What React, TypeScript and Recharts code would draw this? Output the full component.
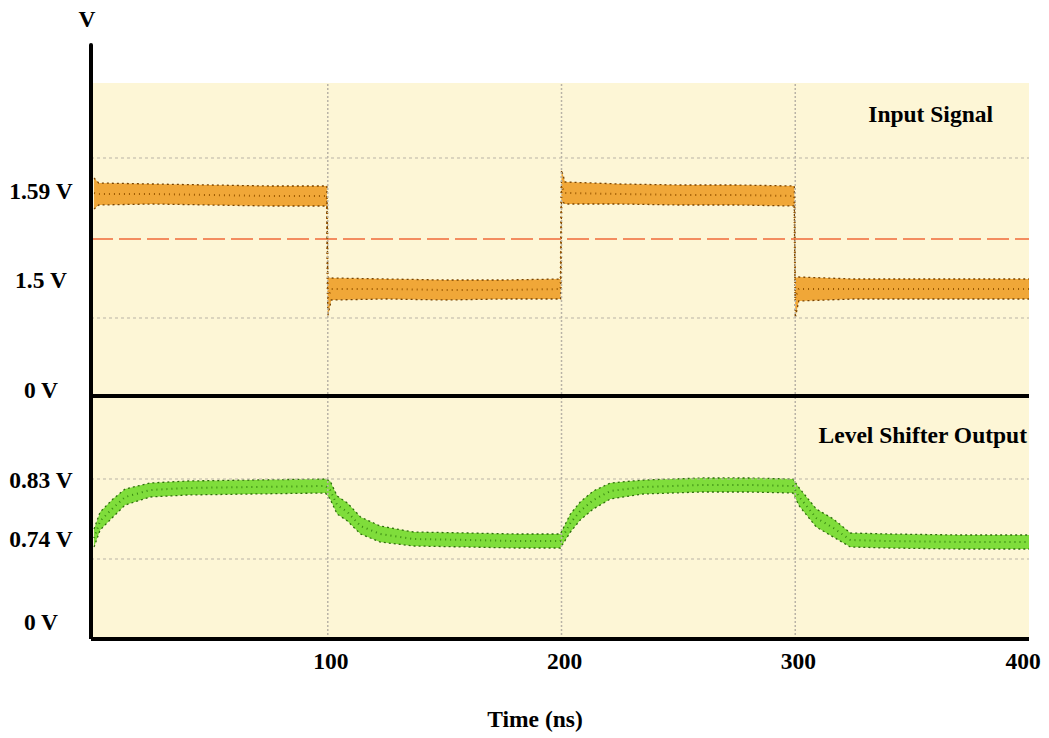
import React from 'react';
import { ComposedChart, Area, Line, XAxis, YAxis, ReferenceLine, ReferenceArea } from 'recharts';

// ---- shared x (time, ns) ----
const timeDomain: [number, number] = [-1.3, 400];
const timeTicks = [100, 200, 300, 400];
const timeGridLines = [100, 200, 300];
const minorTimeTicks = [20, 40, 60, 80, 120, 140, 160, 180, 220, 240, 260, 280, 320, 340, 360, 380];

// ---- Input Signal panel (schematic level units) ----
const topTime = [0, 2, 25, 50, 75, 99.6, 100, 101.5, 125, 150, 175, 199.6, 200, 201.5, 225, 250, 275, 299.6, 300, 301.5, 325, 350, 375, 400];
const topLow = [9.45, 9.65, 9.7, 9.65, 9.6, 9.6, 4.1, 4.9, 4.95, 4.9, 4.95, 4.95, 9.85, 9.7, 9.7, 9.65, 9.65, 9.6, 4.0, 4.85, 4.95, 4.95, 4.95, 4.95];
const topHigh = [11.0, 10.75, 10.7, 10.65, 10.6, 10.6, 6.05, 6.0, 5.95, 5.9, 5.9, 5.95, 11.4, 10.8, 10.7, 10.65, 10.65, 10.6, 6.0, 6.05, 5.95, 5.95, 5.95, 5.95];
const topMid = [10.25, 10.2, 10.2, 10.15, 10.1, 10.1, 5.0, 5.45, 5.45, 5.4, 5.4, 5.45, 10.6, 10.25, 10.2, 10.15, 10.15, 10.1, 5.0, 5.45, 5.45, 5.45, 5.45, 5.45];
const topTickValues = [0.37, 5.87, 10.33];
const topTickLabels = ['0 V', '1.5 V', '1.59 V'];
const topGridValues = [4, 12];
const topMinorTicks = [1, 2, 3, 4, 5, 6, 7, 8, 9, 10, 11, 12, 13, 14, 15];
const thresholdLevel = 7.95;
const topPanelMax = 15.75;
const topAxisMax = 17.65;

// ---- Level Shifter Output panel ----
const botTime = [0, 2.6, 8.1, 13.3, 24, 40, 67, 99, 101, 104, 108.4, 114, 122.4, 136.6, 160, 180, 199.5, 203.8, 208, 213.6, 220.9, 235, 260, 280, 299, 301.7, 309, 316.3, 323.6, 340, 370, 400];
const botMid = [5.05, 5.9, 6.55, 7.1, 7.45, 7.55, 7.6, 7.65, 7.45, 6.7, 6.35, 5.65, 5.25, 5.0, 4.95, 4.9, 4.9, 5.8, 6.4, 6.95, 7.4, 7.6, 7.7, 7.7, 7.65, 7.1, 6.05, 5.55, 4.95, 4.9, 4.85, 4.85];
const botLow = [4.6, 5.45, 6.1, 6.7, 7.1, 7.2, 7.25, 7.3, 7.0, 6.25, 5.9, 5.25, 4.85, 4.65, 4.6, 4.55, 4.55, 5.35, 5.95, 6.5, 7.0, 7.25, 7.35, 7.35, 7.3, 6.65, 5.6, 5.1, 4.6, 4.55, 4.5, 4.5];
const botHigh = [5.5, 6.35, 7.0, 7.5, 7.8, 7.9, 7.95, 8.0, 7.9, 7.15, 6.8, 6.1, 5.65, 5.35, 5.3, 5.25, 5.25, 6.25, 6.85, 7.4, 7.8, 7.95, 8.05, 8.05, 8.0, 7.55, 6.5, 6.0, 5.3, 5.25, 5.2, 5.2];
const botTickValues = [0.83, 5.0, 7.92];
const botTickLabels = ['0 V', '0.74 V', '0.83 V'];
const botGridValues = [4, 8];
const botMinorTicks = [1, 2, 3, 4, 5, 6, 7, 8, 9, 10, 11, 12];
const botAxisMax = 12.15;

const topData = topTime.map((t, i) => ({ t, band: [topLow[i], topHigh[i]], mid: topMid[i] }));
const botData = botTime.map((t, i) => ({ t, band: [botLow[i], botHigh[i]], mid: botMid[i] }));

const CREAM = '#FDF6D6';
const fontStyle: React.CSSProperties = {
  fontFamily: "'Liberation Serif', 'Times New Roman', serif",
  fontWeight: 700,
  fontSize: 23.5,
};

const makeYTick = (values: number[], labels: string[]) => (props: any) => {
  const { y, payload } = props;
  const i = values.indexOf(payload.value);
  return (
    <text x={41} y={y} dy="0.33em" textAnchor="middle" fill="#000" style={fontStyle}>
      {labels[i]}
    </text>
  );
};

const XTick = (props: any) => {
  const { x, y, payload } = props;
  const shift = payload.value === timeTicks[timeTicks.length - 1] ? -6 : 3;
  return (
    <text x={x + shift} y={y + 22} textAnchor="middle" fill="#000" style={fontStyle}>
      {payload.value}
    </text>
  );
};

const gridStroke = '#b9b3a6';

export default function App() {
  return (
    <div style={{ position: 'absolute', left: 0, top: 0, width: 1049, height: 738, background: '#fff' }}>
      {/* bottom panel */}
      <div style={{ position: 'absolute', left: 0, top: 394 }}>
        <ComposedChart width={1049} height={344} data={botData} margin={{ top: 2, right: 20, bottom: 69, left: 0 }}>
          <XAxis
            dataKey="t"
            type="number"
            domain={timeDomain}
            allowDataOverflow
            ticks={timeTicks}
            axisLine={{ stroke: '#000', strokeWidth: 4 }}
            tickLine={false}
            tick={<XTick />}
            height={30}
            label={{
              content: (p: any) => {
                const vb = p.viewBox;
                return (
                  <text x={vb.x + vb.width / 2 - 25} y={vb.y + 88} textAnchor="middle" fill="#000" style={fontStyle}>
                    Time (ns)
                  </text>
                );
              },
            }}
          />
          <XAxis
            xAxisId="minor"
            orientation="top"
            mirror
            type="number"
            domain={timeDomain}
            allowDataOverflow
            ticks={minorTimeTicks}
            tick={false}
            axisLine={false}
            tickLine={{ stroke: '#999', strokeWidth: 1 }}
            tickSize={6}
          />
          <YAxis
            type="number"
            domain={[0, botAxisMax]}
            allowDataOverflow
            ticks={botTickValues}
            width={91}
            axisLine={{ stroke: '#000', strokeWidth: 4 }}
            tickLine={false}
            tick={makeYTick(botTickValues, botTickLabels)}
          />
          <YAxis
            yAxisId="minor"
            type="number"
            domain={[0, botAxisMax]}
            allowDataOverflow
            ticks={botMinorTicks}
            mirror
            axisLine={false}
            tick={false}
            tickLine={{ stroke: '#999', strokeWidth: 1 }}
            tickSize={6}
          />
          <ReferenceArea
            y1={0}
            y2={botAxisMax}
            fill={CREAM}
            fillOpacity={1}
            stroke="none"
            label={{
              content: (p: any) => {
                const vb = p.viewBox;
                return (
                  <text x={vb.x + vb.width - 2} y={vb.y + 47} textAnchor="end" fill="#000" style={fontStyle}>
                    Level Shifter Output
                  </text>
                );
              },
            }}
          />
          {botGridValues.map((v) => (
            <ReferenceLine key={'bg' + v} y={v} stroke={gridStroke} strokeDasharray="3 3" strokeWidth={1} />
          ))}
          {timeGridLines.map((v) => (
            <ReferenceLine key={'bv' + v} x={v} stroke={gridStroke} strokeDasharray="2 2" strokeWidth={1.5} />
          ))}
          <Area
            dataKey="band"
            type="linear"
            fill="#69D820"
            fillOpacity={0.85}
            stroke="#2E6E0C"
            strokeWidth={1.3}
            strokeDasharray="2 3"
            isAnimationActive={false}
            activeDot={false}
          />
          <Line
            dataKey="mid"
            type="linear"
            stroke="#3A8A12"
            strokeWidth={2}
            strokeDasharray="1 4"
            dot={false}
            activeDot={false}
            isAnimationActive={false}
          />
        </ComposedChart>
      </div>
      {/* top panel */}
      <div style={{ position: 'absolute', left: 0, top: 0 }}>
        <ComposedChart width={1049} height={420} data={topData} margin={{ top: 45, right: 20, bottom: 22, left: 0 }}>
          <XAxis dataKey="t" type="number" domain={timeDomain} allowDataOverflow hide />
          <YAxis
            type="number"
            domain={[0, topAxisMax]}
            allowDataOverflow
            ticks={topTickValues}
            width={91}
            axisLine={{ stroke: '#000', strokeWidth: 4, strokeLinecap: 'round' }}
            tickLine={false}
            tick={makeYTick(topTickValues, topTickLabels)}
            label={{
              content: (p: any) => {
                const vb = p.viewBox;
                return (
                  <text x={vb.x + vb.width - 4} y={vb.y - 18} textAnchor="middle" fill="#000" style={fontStyle}>
                    V
                  </text>
                );
              },
            }}
          />
          <YAxis
            yAxisId="minor"
            type="number"
            domain={[0, topAxisMax]}
            allowDataOverflow
            ticks={topMinorTicks}
            mirror
            axisLine={false}
            tick={false}
            tickLine={{ stroke: '#999', strokeWidth: 1 }}
            tickSize={6}
          />
          <ReferenceArea
            y1={0}
            y2={topPanelMax}
            fill={CREAM}
            fillOpacity={1}
            stroke="none"
            label={{
              content: (p: any) => {
                const vb = p.viewBox;
                return (
                  <text x={vb.x + vb.width - 36} y={vb.y + 39} textAnchor="end" fill="#000" style={fontStyle}>
                    Input Signal
                  </text>
                );
              },
            }}
          />
          {topGridValues.map((v) => (
            <ReferenceLine key={'tg' + v} y={v} stroke={gridStroke} strokeDasharray="3 3" strokeWidth={1} />
          ))}
          {timeGridLines.map((v) => (
            <ReferenceLine
              key={'tv' + v}
              segment={[{ x: v, y: 0 }, { x: v, y: topPanelMax }]}
              stroke={gridStroke}
              strokeDasharray="2 2"
              strokeWidth={1.5}
            />
          ))}
          <ReferenceLine y={thresholdLevel} stroke="#F0693A" strokeDasharray="22 6" strokeWidth={1.5} />
          <Area
            dataKey="band"
            type="linear"
            fill="#EC9310"
            fillOpacity={0.8}
            stroke="#7A4400"
            strokeWidth={1.3}
            strokeDasharray="2 3"
            isAnimationActive={false}
            activeDot={false}
          />
          <Line
            dataKey="mid"
            type="linear"
            stroke="#9A5800"
            strokeWidth={2}
            strokeDasharray="1 4"
            dot={false}
            activeDot={false}
            isAnimationActive={false}
          />
          <ReferenceLine y={0.1} stroke="#000" strokeWidth={4} />
        </ComposedChart>
      </div>
    </div>
  );
}
